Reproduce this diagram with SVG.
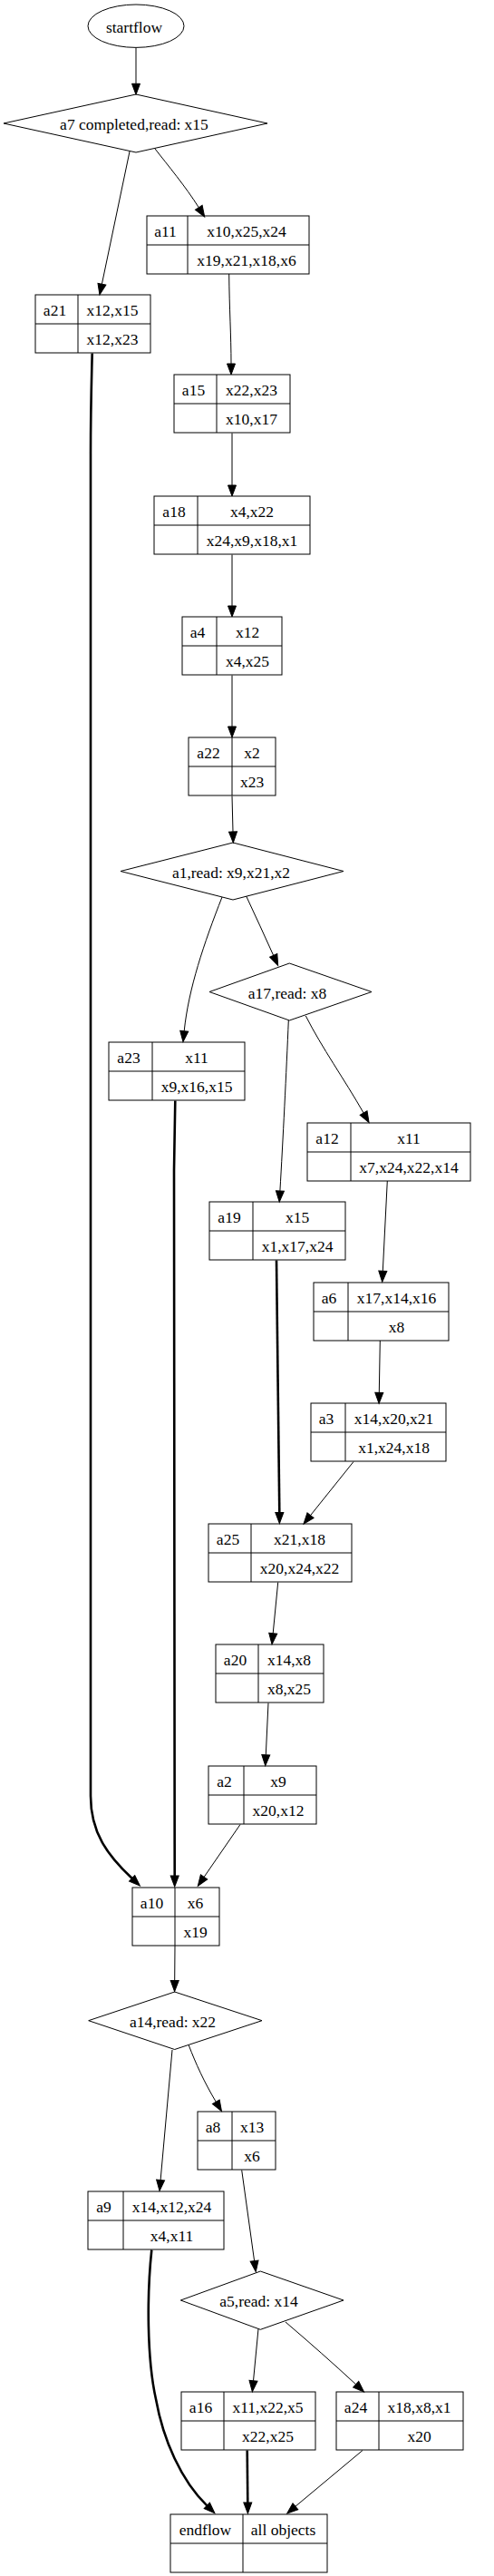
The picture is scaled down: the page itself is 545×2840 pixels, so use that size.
<svg xmlns="http://www.w3.org/2000/svg" width="545" height="2840" viewBox="0 0 545 2840">
<style>
.bg{fill:#fff}
.n{fill:none;stroke:#000;stroke-width:1}
text{font-family:"Liberation Serif","Times New Roman",serif;font-size:17.5px;fill:#000;text-anchor:middle}
.e{fill:none;stroke:#000;stroke-width:1}
.b{fill:none;stroke:#000;stroke-width:2.6}
</style>
<defs>
<marker id="ah" markerUnits="userSpaceOnUse" markerWidth="14" markerHeight="12" refX="0" refY="6" orient="auto" overflow="visible">
<path d="M0,1.5 L12,6 L0,10.5 z" fill="#000" stroke="#000" stroke-width="1"/>
</marker>
</defs>
<rect class="bg" x="0" y="0" width="545" height="2840"/>

<g id="edges">
<path class="e" marker-end="url(#ah)" d="M150,53 L150,92.3"/>
<path class="e" marker-end="url(#ah)" d="M143,167 L112.4,313.2"/>
<path class="e" marker-end="url(#ah)" d="M171,164 C185,182 205,206 219.3,228.8"/>
<path class="e" marker-end="url(#ah)" d="M252.7,302 C253,340 255,370 255,401"/>
<path class="e" marker-end="url(#ah)" d="M256,477.5 L256,535"/>
<path class="e" marker-end="url(#ah)" d="M256,611.5 L256,668"/>
<path class="e" marker-end="url(#ah)" d="M256,744.5 L256,801"/>
<path class="e" marker-end="url(#ah)" d="M256,877.5 L257,917"/>
<path class="e" marker-end="url(#ah)" d="M245,989 C225,1040 208,1090 203.2,1136.7"/>
<path class="e" marker-end="url(#ah)" d="M271.7,988 C282,1010 292,1032 301.7,1053.4"/>
<path class="e" marker-end="url(#ah)" d="M318.3,1125 C316,1180 312,1260 308.9,1313"/>
<path class="e" marker-end="url(#ah)" d="M337.3,1120 C355,1155 380,1190 401.1,1227"/>
<path class="e" marker-end="url(#ah)" d="M427.3,1302 L422.3,1401.3"/>
<path class="e" marker-end="url(#ah)" d="M419.3,1478 L418.3,1535.3"/>
<path class="e" marker-end="url(#ah)" d="M390,1611.5 L342.5,1670.7"/>
<path class="b" marker-end="url(#ah)" d="M305,1389.5 C306,1500 308,1600 308.3,1667.5"/>
<path class="e" marker-end="url(#ah)" d="M306.7,1744.5 L301.2,1800.8"/>
<path class="e" marker-end="url(#ah)" d="M296,1877.5 L293.3,1934.7"/>
<path class="e" marker-end="url(#ah)" d="M265,2011.5 L225.1,2069.4"/>
<path class="b" marker-end="url(#ah)" d="M101.7,389.5 C101,420 100,450 100,500 L100,1980 C100,2020 118,2045 145.6,2070.8"/>
<path class="b" marker-end="url(#ah)" d="M193.3,1213.5 L192,1290 L192.7,2068"/>
<path class="e" marker-end="url(#ah)" d="M193,2145 L192.7,2183.5"/>
<path class="e" marker-end="url(#ah)" d="M208.3,2255 C216,2275 225,2295 238.3,2317.3"/>
<path class="e" marker-end="url(#ah)" d="M190,2260 L177.1,2403.5"/>
<path class="e" marker-end="url(#ah)" d="M266.7,2392.5 L280.6,2492.6"/>
<path class="e" marker-end="url(#ah)" d="M285,2567.5 L279.5,2624.8"/>
<path class="e" marker-end="url(#ah)" d="M315,2560 C342,2583 368,2606 392.7,2628.8"/>
<path class="b" marker-end="url(#ah)" d="M167.3,2480.5 C162,2530 162,2600 172,2645 C180,2690 200,2735 228.3,2762.4"/>
<path class="b" marker-end="url(#ah)" d="M272.7,2701.5 L273.3,2759"/>
<path class="e" marker-end="url(#ah)" d="M400,2701.5 L325.9,2763.3"/>
</g>

<g id="startflow">
<ellipse class="n" cx="150" cy="28.7" rx="53" ry="23.7"/>
<text x="148" y="36">startflow</text>
</g>
<g id="a7">
<polygon class="n" points="150,104 295,136 150,168 4,136"/>
<text x="148" y="143">a7 completed,read: x15</text>
</g>
<g id="a11">
<rect class="n" x="162" y="238" width="179" height="64"/>
<line class="n" x1="162" y1="270" x2="341" y2="270"/>
<line class="n" x1="207" y1="238" x2="207" y2="302"/>
<text x="182.5" y="260.5">a11</text>
<text x="272" y="260.5">x10,x25,x24</text>
<text x="272" y="292.5">x19,x21,x18,x6</text>
</g>
<g id="a21">
<rect class="n" x="39" y="325" width="127" height="64"/>
<line class="n" x1="39" y1="357" x2="166" y2="357"/>
<line class="n" x1="86" y1="325" x2="86" y2="389"/>
<text x="60.5" y="347.5">a21</text>
<text x="124" y="347.5">x12,x15</text>
<text x="124" y="379.5">x12,x23</text>
</g>
<g id="a15">
<rect class="n" x="192" y="413" width="128" height="64"/>
<line class="n" x1="192" y1="445" x2="320" y2="445"/>
<line class="n" x1="239" y1="413" x2="239" y2="477"/>
<text x="213.5" y="435.5">a15</text>
<text x="277.5" y="435.5">x22,x23</text>
<text x="277.5" y="467.5">x10,x17</text>
</g>
<g id="a18">
<rect class="n" x="170" y="547" width="172" height="64"/>
<line class="n" x1="170" y1="579" x2="342" y2="579"/>
<line class="n" x1="218" y1="547" x2="218" y2="611"/>
<text x="192" y="569.5">a18</text>
<text x="278" y="569.5">x4,x22</text>
<text x="278" y="601.5">x24,x9,x18,x1</text>
</g>
<g id="a4">
<rect class="n" x="201" y="680" width="110" height="64"/>
<line class="n" x1="201" y1="712" x2="311" y2="712"/>
<line class="n" x1="239" y1="680" x2="239" y2="744"/>
<text x="218" y="702.5">a4</text>
<text x="273" y="702.5">x12</text>
<text x="273" y="734.5">x4,x25</text>
</g>
<g id="a22">
<rect class="n" x="208" y="813" width="96" height="64"/>
<line class="n" x1="208" y1="845" x2="304" y2="845"/>
<line class="n" x1="256" y1="813" x2="256" y2="877"/>
<text x="230" y="835.5">a22</text>
<text x="278" y="835.5">x2</text>
<text x="278" y="867.5">x23</text>
</g>
<g id="a1">
<polygon class="n" points="257,929 379,960.5 257,992 133,960.5"/>
<text x="255" y="967.5">a1,read: x9,x21,x2</text>
</g>
<g id="a17">
<polygon class="n" points="319.3,1062 410,1093.5 319.3,1125 231,1093.5"/>
<text x="317" y="1100.5">a17,read: x8</text>
</g>
<g id="a23">
<rect class="n" x="120" y="1149" width="150" height="64"/>
<line class="n" x1="120" y1="1181" x2="270" y2="1181"/>
<line class="n" x1="168" y1="1149" x2="168" y2="1213"/>
<text x="142" y="1171.5">a23</text>
<text x="217" y="1171.5">x11</text>
<text x="217" y="1203.5">x9,x16,x15</text>
</g>
<g id="a12">
<rect class="n" x="339" y="1238" width="180" height="64"/>
<line class="n" x1="339" y1="1270" x2="519" y2="1270"/>
<line class="n" x1="387" y1="1238" x2="387" y2="1302"/>
<text x="361" y="1260.5">a12</text>
<text x="451" y="1260.5">x11</text>
<text x="451" y="1292.5">x7,x24,x22,x14</text>
</g>
<g id="a19">
<rect class="n" x="231" y="1325" width="150" height="64"/>
<line class="n" x1="231" y1="1357" x2="381" y2="1357"/>
<line class="n" x1="279" y1="1325" x2="279" y2="1389"/>
<text x="253" y="1347.5">a19</text>
<text x="328" y="1347.5">x15</text>
<text x="328" y="1379.5">x1,x17,x24</text>
</g>
<g id="a6">
<rect class="n" x="346" y="1414" width="149" height="64"/>
<line class="n" x1="346" y1="1446" x2="495" y2="1446"/>
<line class="n" x1="384" y1="1414" x2="384" y2="1478"/>
<text x="363" y="1436.5">a6</text>
<text x="437.5" y="1436.5">x17,x14,x16</text>
<text x="437.5" y="1468.5">x8</text>
</g>
<g id="a3">
<rect class="n" x="343" y="1547" width="149" height="64"/>
<line class="n" x1="343" y1="1579" x2="492" y2="1579"/>
<line class="n" x1="381" y1="1547" x2="381" y2="1611"/>
<text x="360" y="1569.5">a3</text>
<text x="434.5" y="1569.5">x14,x20,x21</text>
<text x="434.5" y="1601.5">x1,x24,x18</text>
</g>
<g id="a25">
<rect class="n" x="230" y="1680" width="158" height="64"/>
<line class="n" x1="230" y1="1712" x2="388" y2="1712"/>
<line class="n" x1="277" y1="1680" x2="277" y2="1744"/>
<text x="251.5" y="1702.5">a25</text>
<text x="330.5" y="1702.5">x21,x18</text>
<text x="330.5" y="1734.5">x20,x24,x22</text>
</g>
<g id="a20">
<rect class="n" x="238" y="1813" width="119" height="64"/>
<line class="n" x1="238" y1="1845" x2="357" y2="1845"/>
<line class="n" x1="285" y1="1813" x2="285" y2="1877"/>
<text x="259.5" y="1835.5">a20</text>
<text x="319" y="1835.5">x14,x8</text>
<text x="319" y="1867.5">x8,x25</text>
</g>
<g id="a2">
<rect class="n" x="230" y="1947" width="119" height="64"/>
<line class="n" x1="230" y1="1979" x2="349" y2="1979"/>
<line class="n" x1="269" y1="1947" x2="269" y2="2011"/>
<text x="247.5" y="1969.5">a2</text>
<text x="307" y="1969.5">x9</text>
<text x="307" y="2001.5">x20,x12</text>
</g>
<g id="a10">
<rect class="n" x="146" y="2081" width="96" height="64"/>
<line class="n" x1="146" y1="2113" x2="242" y2="2113"/>
<line class="n" x1="193" y1="2081" x2="193" y2="2145"/>
<text x="167.5" y="2103.5">a10</text>
<text x="215.5" y="2103.5">x6</text>
<text x="215.5" y="2135.5">x19</text>
</g>
<g id="a14">
<polygon class="n" points="192.7,2196 289,2227.7 192.7,2259.5 97.7,2227.7"/>
<text x="190.5" y="2234.7">a14,read: x22</text>
</g>
<g id="a8">
<rect class="n" x="218" y="2328" width="86" height="64"/>
<line class="n" x1="218" y1="2360" x2="304" y2="2360"/>
<line class="n" x1="256" y1="2328" x2="256" y2="2392"/>
<text x="235" y="2350.5">a8</text>
<text x="278" y="2350.5">x13</text>
<text x="278" y="2382.5">x6</text>
</g>
<g id="a9">
<rect class="n" x="97" y="2416" width="150" height="64"/>
<line class="n" x1="97" y1="2448" x2="247" y2="2448"/>
<line class="n" x1="136" y1="2416" x2="136" y2="2480"/>
<text x="114.5" y="2438.5">a9</text>
<text x="189.5" y="2438.5">x14,x12,x24</text>
<text x="189.5" y="2470.5">x4,x11</text>
</g>
<g id="a5">
<polygon class="n" points="287.3,2504 379,2536 287.3,2568.3 199.3,2536"/>
<text x="285.5" y="2543">a5,read: x14</text>
</g>
<g id="a16">
<rect class="n" x="200" y="2637" width="148" height="64"/>
<line class="n" x1="200" y1="2669" x2="348" y2="2669"/>
<line class="n" x1="247" y1="2637" x2="247" y2="2701"/>
<text x="221.5" y="2659.5">a16</text>
<text x="295.5" y="2659.5">x11,x22,x5</text>
<text x="295.5" y="2691.5">x22,x25</text>
</g>
<g id="a24">
<rect class="n" x="371" y="2637" width="140" height="64"/>
<line class="n" x1="371" y1="2669" x2="511" y2="2669"/>
<line class="n" x1="418" y1="2637" x2="418" y2="2701"/>
<text x="392.5" y="2659.5">a24</text>
<text x="462.5" y="2659.5">x18,x8,x1</text>
<text x="462.5" y="2691.5">x20</text>
</g>
<g id="endflow">
<rect class="n" x="188" y="2772" width="173" height="64"/>
<line class="n" x1="188" y1="2804" x2="361" y2="2804"/>
<line class="n" x1="268" y1="2772" x2="268" y2="2836"/>
<text x="226.5" y="2794.5">endflow</text>
<text x="312.5" y="2794.5">all objects</text>
</g>
</svg>
